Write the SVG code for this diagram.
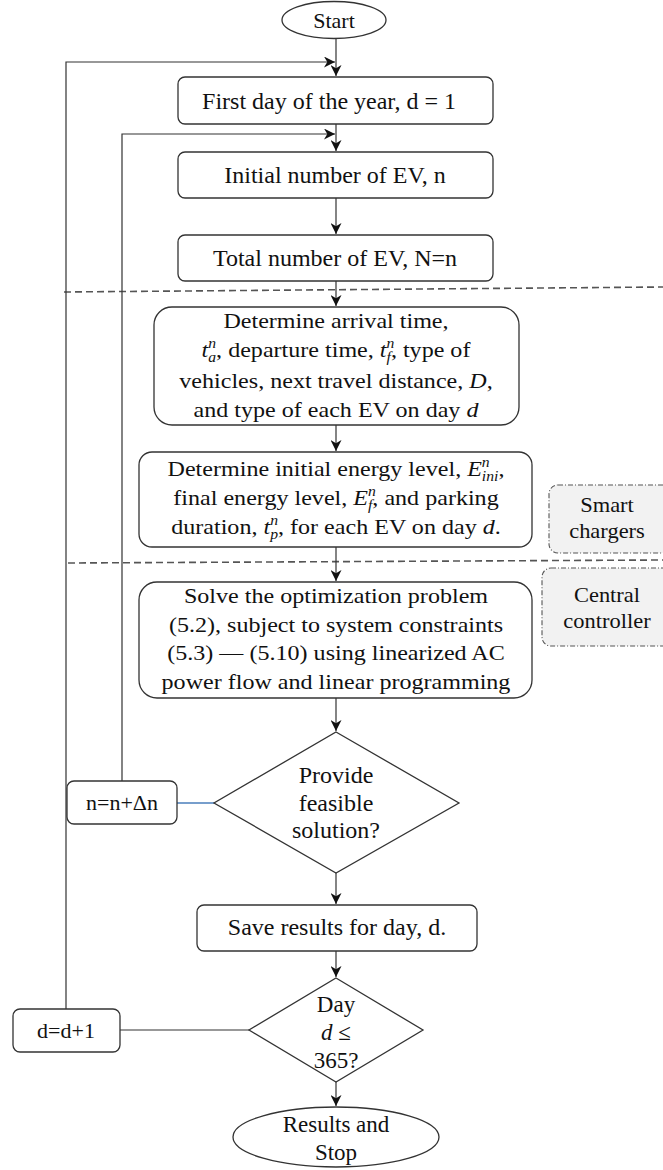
<svg xmlns="http://www.w3.org/2000/svg" width="663" height="1170" viewBox="0 0 663 1170">
  <style>
    .shape { fill: #ffffff; stroke: #333333; stroke-width: 1.3; }
    .note { fill: #f2f2f2; stroke: #555555; stroke-width: 1.1; stroke-dasharray: 5 2 1 2; }
    .wire { fill: none; stroke: #333333; stroke-width: 1.2; }
    .sep { fill: none; stroke: #555555; stroke-width: 1.6; stroke-dasharray: 7 4; }
    text { font-family: "Liberation Serif", "Times New Roman", serif; fill: #111111; text-anchor: middle; }
    .t24 { font-size: 24px; }
    .t23 { font-size: 23px; }
    .t22 { font-size: 22px; }
    .body { font-size: 21.5px; }
    .side { font-size: 21px; }
    .m { font-style: italic; }
    .s { font-size: 14px; font-style: italic; }
  </style>
  <defs>
    <marker id="arrow" markerUnits="userSpaceOnUse" markerWidth="11" markerHeight="11" refX="10" refY="5" orient="auto" viewBox="0 0 10 10">
      <path d="M0,0 L10,5 L0,10 L3,5 z" fill="#111111"/>
    </marker>
  </defs>

  <!-- section separators -->
  <g id="separators">
    <path class="sep" d="M64,292 L663,287"/>
    <path class="sep" d="M68,563 L663,560"/>
  </g>

  <!-- connectors -->
  <g id="connectors">
    <path class="wire" d="M336,39 V76" marker-end="url(#arrow)"/>
    <path class="wire" d="M66,1009 V62 H335" marker-end="url(#arrow)"/>
    <path class="wire" d="M336,124 V151" marker-end="url(#arrow)"/>
    <path class="wire" d="M122,781 V134 H335" marker-end="url(#arrow)"/>
    <path class="wire" d="M336,198 V234" marker-end="url(#arrow)"/>
    <path class="wire" d="M336,281 V306" marker-end="url(#arrow)"/>
    <path class="wire" d="M336,425 V451" marker-end="url(#arrow)"/>
    <path class="wire" d="M336,547 V581" marker-end="url(#arrow)"/>
    <path class="wire" d="M336,698 V731" marker-end="url(#arrow)"/>
    <path d="M214,803 H177" fill="none" stroke="#4a7ebb" stroke-width="1.3"/>
    <path class="wire" d="M336,873 V904" marker-end="url(#arrow)"/>
    <path class="wire" d="M336,951 V977" marker-end="url(#arrow)"/>
    <path class="wire" d="M249,1030 H120"/>
    <path class="wire" d="M336,1082 V1106" marker-end="url(#arrow)"/>
  </g>

  <g id="start">
    <ellipse class="shape" cx="334" cy="20" rx="52" ry="18.5"/>
    <text class="t22" x="334" y="28">Start</text>
  </g>

  <g id="first-day">
    <rect class="shape" x="178" y="77" width="315" height="47" rx="7"/>
    <text class="t24" x="329" y="109">First day of the year, d = 1</text>
  </g>

  <g id="initial-ev">
    <rect class="shape" x="178" y="152" width="315" height="46" rx="7"/>
    <text class="t24" x="335" y="183">Initial number of EV, n</text>
  </g>

  <g id="total-ev">
    <rect class="shape" x="178" y="235" width="315" height="46" rx="7"/>
    <text class="t24" x="335" y="266">Total number of EV, N=n</text>
  </g>

  <g id="arrival">
    <rect class="shape" x="154" y="307" width="365" height="118" rx="18"/>
    <g transform="matrix(1.12 0 0 1 -40.32 0)">
      <text class="body" x="336" y="328">Determine arrival time,</text>
      <text class="body" x="336" y="357"><tspan class="m">t</tspan><tspan class="s" dy="-9">n</tspan><tspan class="s" dx="-7" dy="14">a</tspan><tspan dy="-5">, departure time, </tspan><tspan class="m">t</tspan><tspan class="s" dy="-9">n</tspan><tspan class="s" dx="-7" dy="14">f</tspan><tspan dy="-5">, type of</tspan></text>
      <text class="body" x="336" y="388">vehicles, next travel distance, <tspan class="m">D</tspan>,</text>
      <text class="body" x="336" y="417">and type of each EV  on day <tspan class="m">d</tspan></text>
    </g>
  </g>

  <g id="energy">
    <rect class="shape" x="139" y="452" width="393" height="95" rx="13"/>
    <g transform="matrix(1.12 0 0 1 -40.32 0)">
      <text class="body" x="336" y="476">Determine initial energy level, <tspan class="m">E</tspan><tspan class="s" dy="-9">n</tspan><tspan class="s" dx="-7" dy="14">ini</tspan><tspan dy="-5">,</tspan></text>
      <text class="body" x="336" y="505">final energy level, <tspan class="m">E</tspan><tspan class="s" dy="-9">n</tspan><tspan class="s" dx="-7" dy="14">f</tspan><tspan dy="-5">, and parking</tspan></text>
      <text class="body" x="336" y="534">duration, <tspan class="m">t</tspan><tspan class="s" dy="-9">n</tspan><tspan class="s" dx="-7" dy="14">p</tspan><tspan dy="-5">, for each EV  on day </tspan><tspan class="m">d</tspan>.</text>
    </g>
  </g>

  <g id="smart-chargers">
    <rect class="note" x="549" y="485" width="124" height="68" rx="9"/>
    <g transform="matrix(1.07 0 0 1 -42.49 0)">
      <text class="side" x="607" y="512">Smart</text>
      <text class="side" x="607" y="538">chargers</text>
    </g>
  </g>

  <g id="optimization">
    <rect class="shape" x="139" y="582" width="393" height="116" rx="18"/>
    <g transform="matrix(1.12 0 0 1 -40.32 0)">
      <text class="body" x="336" y="603">Solve the optimization problem</text>
      <text class="body" x="336" y="632">(5.2), subject to system constraints</text>
      <text class="body" x="336" y="660">(5.3) — (5.10) using linearized AC</text>
      <text class="body" x="336" y="689">power flow and linear programming</text>
    </g>
  </g>

  <g id="central-controller">
    <rect class="note" x="542" y="568" width="131" height="78" rx="9"/>
    <g transform="matrix(1.07 0 0 1 -42.49 0)">
      <text class="side" x="607" y="602">Central</text>
      <text class="side" x="607" y="628">controller</text>
    </g>
  </g>

  <g id="feasible">
    <polygon class="shape" points="336,732 459,803 336,873 214,803"/>
    <text class="t24" x="336" y="783">Provide</text>
    <text class="t24" x="336" y="811">feasible</text>
    <text class="t24" x="336" y="838">solution?</text>
  </g>

  <g id="increment-n">
    <rect class="shape" x="67" y="781" width="110" height="43" rx="7"/>
    <text class="t22" x="122" y="810">n=n+Δn</text>
  </g>

  <g id="save">
    <rect class="shape" x="197" y="905" width="280" height="46" rx="7"/>
    <text class="t24" x="337" y="935">Save results for day, d.</text>
  </g>

  <g id="day-check">
    <polygon class="shape" points="336,978 423,1030 336,1082 249,1030"/>
    <text class="t23" x="336" y="1012">Day</text>
    <text class="t23" x="336" y="1040"><tspan class="m">d</tspan> ≤</text>
    <text class="t23" x="336" y="1068">365?</text>
  </g>

  <g id="increment-d">
    <rect class="shape" x="13" y="1009" width="107" height="43" rx="7"/>
    <text class="t22" x="66" y="1038">d=d+1</text>
  </g>

  <g id="end">
    <ellipse class="shape" cx="336" cy="1137" rx="103" ry="30"/>
    <text class="t23" x="336" y="1132">Results and</text>
    <text class="t23" x="336" y="1160">Stop</text>
  </g>
</svg>
